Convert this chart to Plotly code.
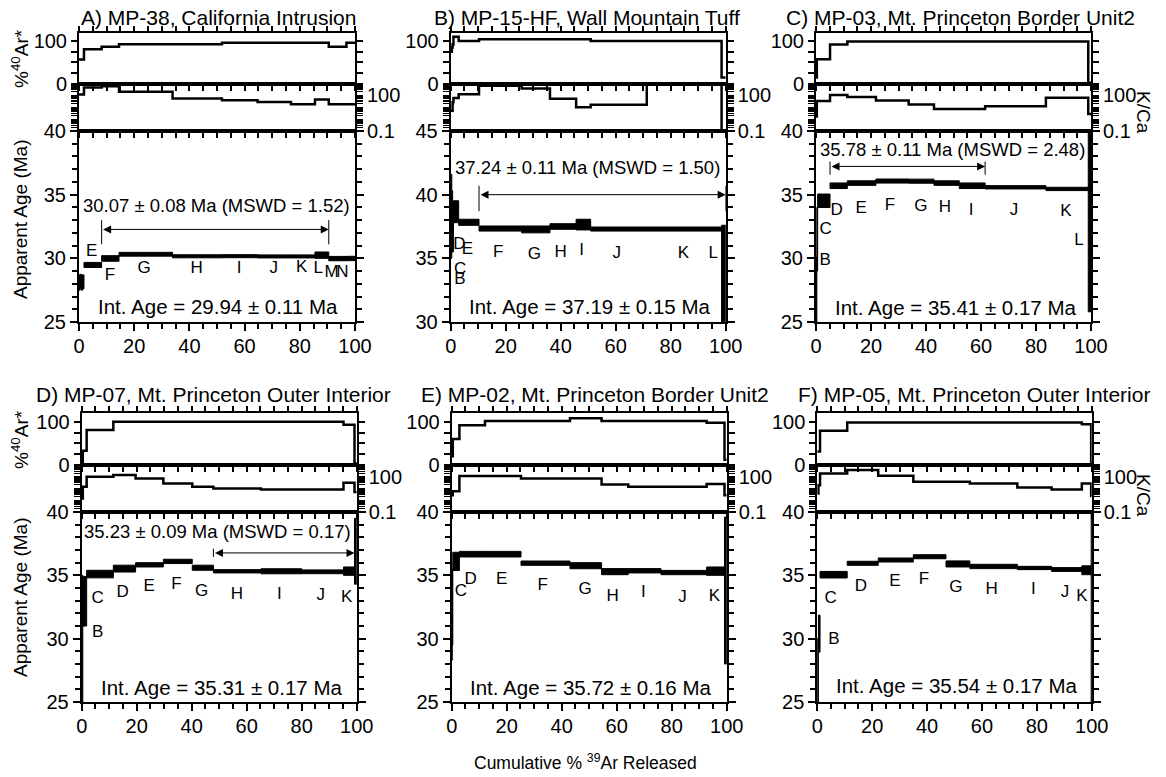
import plotly.graph_objects as go

# ---------------- Step-heating results ----------------
# Panel A: MP-38, California Intrusion
a_steps = ["A", "B", "C", "D", "E", "F", "G", "H", "I", "J", "K", "L", "M", "N"]
a_cum = [0, 0.4, 0.8, 1.3, 1.8, 8.2, 14.5, 33.9, 51.8, 64.7, 76.8, 85.5, 90.5, 96.9, 100]
a_age = [28.1, 28.2, 28.1, 28.15, 29.48, 29.99, 30.32, 30.16, 30.17, 30.15, 30.15, 30.25, 29.98, 29.99]
a_err = [0.6, 0.55, 0.6, 0.55, 0.2, 0.22, 0.15, 0.12, 0.12, 0.12, 0.12, 0.25, 0.17, 0.17]
a_rad = [56.7, 56.7, 56.7, 56.7, 80.3, 86.6, 92.1, 92.1, 96.1, 96.1, 96.1, 96.1, 86.6, 96.0]
a_kca = [117, 117, 117, 117, 457, 590, 200, 54, 39, 28, 18, 45, 18, 18]

# Panel B: MP-15-HF, Wall Mountain Tuff
b_steps = ["A", "B", "C", "D", "E", "F", "G", "H", "I", "J", "K", "L"]
b_cum = [0, 0.4, 0.7, 1.0, 2.9, 10.3, 25.8, 36.1, 45.6, 50.9, 71.3, 98.5, 100]
b_age = [38.3, 37.9, 37.5, 38.66, 37.83, 37.34, 37.27, 37.5, 37.65, 37.3, 37.3, 33.6]
b_err = [3.3, 2.4, 2.0, 0.86, 0.24, 0.2, 0.27, 0.22, 0.42, 0.16, 0.16, 4.0]
b_rad = [75, 85, 92, 110, 100, 104, 104, 104, 104, 100, 100, 14]
b_kca = [5, 5, 27, 59, 123, 650, 380, 52, 10, 16, 820, 0.05]

# Panel C: MP-03, Mt. Princeton Border Unit2
c_steps = ["A", "B", "C", "D", "E", "F", "G", "H", "I", "J", "K", "L"]
c_cum = [0, 0.3, 0.6, 5.1, 11.4, 21.8, 33.7, 42.9, 52.1, 61.5, 83.6, 99.0, 100]
c_age = [27.5, 31.5, 34.52, 35.7, 35.91, 36.07, 36.06, 35.91, 35.7, 35.58, 35.45, 33.0]
c_err = [2.6, 2.5, 0.53, 0.22, 0.18, 0.16, 0.16, 0.18, 0.22, 0.13, 0.13, 7.2]
c_rad = [14, 57, 57, 92, 99, 99, 99, 99, 99, 99, 99, 2]
c_kca = [1.7, 33, 33, 107, 72, 37, 17, 7.2, 7.2, 12, 63, 2.7]

# Panel D: MP-07, Mt. Princeton Outer Interior
d_steps = ["A", "B", "C", "D", "E", "F", "G", "H", "I", "J", "K", "L"]
d_cum = [0, 0.4, 1.8, 11.5, 19.6, 29.7, 40.2, 47.9, 65.2, 80.0, 95.2, 99.2, 100]
d_age = [30.0, 32.95, 35.1, 35.53, 35.83, 36.1, 35.6, 35.32, 35.32, 35.28, 35.33, 36.9]
d_err = [5.0, 1.95, 0.3, 0.27, 0.17, 0.17, 0.2, 0.13, 0.2, 0.15, 0.33, 2.6]
d_rad = [5, 33, 81, 100, 100, 100, 100, 100, 100, 100, 93, 4]
d_kca = [1.4, 14, 100, 138, 72, 27, 14, 10, 8.2, 8.2, 31, 5]

# Panel E: MP-02, Mt. Princeton Border Unit2
e_steps = ["A", "B", "C", "D", "E", "F", "G", "H", "I", "J", "K", "L"]
e_cum = [0, 0.2, 0.4, 2.8, 12.1, 25.2, 43.0, 54.5, 64.2, 76.1, 92.7, 99.2, 100]
e_age = [31.8, 32.5, 36.1, 36.67, 36.67, 35.96, 35.76, 35.29, 35.36, 35.22, 35.33, 33.8]
e_err = [3.5, 3.0, 0.72, 0.22, 0.22, 0.17, 0.24, 0.24, 0.17, 0.17, 0.33, 5.8]
e_rad = [20, 20, 60, 92, 101.6, 101.6, 108, 101.6, 101.6, 101.6, 97.6, 12]
e_kca = [2.7, 2.7, 5.9, 114, 114, 72, 72, 22, 14, 14, 24, 2.7]

# Panel F: MP-05, Mt. Princeton Outer Interior
f_steps = ["A", "B", "C", "D", "E", "F", "G", "H", "I", "J", "K", "L"]
f_cum = [0, 0.4, 1.0, 10.9, 22.2, 35.0, 46.9, 55.6, 72.9, 85.4, 96.4, 99.8, 100]
f_age = [27.5, 30.4, 35.05, 35.95, 36.21, 36.47, 35.9, 35.7, 35.58, 35.46, 35.4, 32.5]
f_err = [2.5, 1.46, 0.26, 0.16, 0.16, 0.16, 0.24, 0.17, 0.13, 0.15, 0.35, 7.5]
f_rad = [31, 31, 79, 98, 98, 98, 98, 98, 98, 98, 94, 4]
f_kca = [3.7, 19, 193, 373, 122, 37, 37, 27, 12, 8.2, 27, 2.3]

# Sample names and summary ages
titles = ["A) MP-38, California Intrusion", "B) MP-15-HF, Wall Mountain Tuff",
          "C) MP-03, Mt. Princeton Border Unit2", "D) MP-07, Mt. Princeton Outer Interior",
          "E) MP-02, Mt. Princeton Border Unit2", "F) MP-05, Mt. Princeton Outer Interior"]
plateau_steps = [("F", "L"), ("F", "L"), ("D", "I"), ("H", "K"), None, None]
plateau_ages = ["30.07 ± 0.08", "37.24 ± 0.11", "35.78 ± 0.11", "35.23 ± 0.09", None, None]
plateau_mswd = ["1.52", "1.50", "2.48", "0.17", None, None]
integrated_ages = ["29.94 ± 0.11", "37.19 ± 0.15", "35.41 ± 0.17",
                   "35.31 ± 0.17", "35.72 ± 0.16", "35.54 ± 0.17"]
age_ranges = [(25, 40), (30, 45), (25, 40), (25, 40), (25, 40), (25, 40)]

# ---------------- Layout constants ----------------
W, H = 1166, 777
FONT = "Arial, Liberation Sans, Helvetica, sans-serif"
COLS = [[(79, 355), (450.7, 725.7), (816, 1091)],
        [(81.7, 356.7), (451.7, 726.7), (817.3, 1091.7)]]
ROWS = [(32.5, 83.5, 131, 322), (413, 465, 512, 702)]
TITLE_X = [218, 587, 960, 213, 595, 974]
TITLE_Y = [18, 18, 18, 395, 395, 395]

# where step letters sit (x in cumulative %, y in Ma)
label_pos = [
    {"E": (4.6, 30.49), "F": (11.2, 28.67), "G": (23.6, 29.2), "H": (42.6, 29.15), "I": (58, 29.15),
     "J": (70.6, 29.15), "K": (80.7, 29.3), "L": (86.7, 29.15), "M": (91.5, 28.85), "N": (95.4, 28.85)},
    {"B": (3.4, 33.3), "C": (3.4, 34.1), "D": (3.2, 36.06), "E": (6.1, 35.71), "F": (17.3, 35.42),
     "G": (30.4, 35.29), "H": (40, 35.42), "I": (47.6, 35.63), "J": (60.4, 35.34), "K": (84.6, 35.37),
     "L": (95.5, 35.37)},
    {"B": (3.3, 29.84), "C": (3.5, 32.22), "D": (7.5, 33.73), "E": (16.4, 33.89), "F": (26.9, 34.15),
     "G": (38.1, 34.07), "H": (46.9, 33.94), "I": (56.4, 33.76), "J": (72, 33.76), "K": (90.9, 33.68),
     "L": (95.6, 31.35)},
    {"B": (5.8, 30.5), "C": (5.8, 33.15), "D": (14.9, 33.6), "E": (24.5, 34.07), "F": (34.5, 34.29),
     "G": (43.6, 33.68), "H": (56.4, 33.49), "I": (71.9, 33.49), "J": (86.9, 33.41), "K": (96.4, 33.2)},
    {"C": (3.3, 33.72), "D": (6.9, 34.65), "E": (18.2, 34.65), "F": (33.1, 34.2), "G": (48.5, 33.86),
     "H": (58.5, 33.32), "I": (69.7, 33.59), "J": (83.9, 33.24), "K": (95.5, 33.32)},
    {"B": (6.1, 29.88), "C": (4.9, 33.14), "D": (15.9, 34.12), "E": (28.3, 34.47), "F": (38.9, 34.66),
     "G": (50.5, 33.99), "H": (63.5, 33.86), "I": (78.7, 33.86), "J": (90.3, 33.6), "K": (96.4, 33.33)},
]
# plateau arrow level, end-bar extent (below, above) and text positions (x %, y Ma)
plateau_geom = [
    dict(level=32.27, bar=(31.1, 33.0), text=(49.9, 34.14)),
    dict(level=40.0, bar=(38.7, 40.7), text=(49.6, 42.17)),
    dict(level=37.22, bar=(36.56, 37.6), text=(49.5, 38.52)),
    dict(level=36.77, bar=(36.45, 37.1), text=(49.4, 38.44)),
    None, None,
]
int_text_pos = [(50.4, 26.25), (50.7, 31.24), (50.9, 26.14), (50.9, 26.14), (50.5, 26.14), (50.8, 26.3)]

panels = [
    (a_steps, a_cum, a_age, a_err, a_rad, a_kca),
    (b_steps, b_cum, b_age, b_err, b_rad, b_kca),
    (c_steps, c_cum, c_age, c_err, c_rad, c_kca),
    (d_steps, d_cum, d_age, d_err, d_rad, d_kca),
    (e_steps, e_cum, e_age, e_err, e_rad, e_kca),
    (f_steps, f_cum, f_age, f_err, f_rad, f_kca),
]

# log tick positions for the K/Ca strip
kca_ticks = [m * 10.0 ** e for e in range(-1, 3) for m in range(1, 10)] + [1000]
kca_text = ["0.1" if abs(v - 0.1) < 1e-9 else ("100" if abs(v - 100) < 1e-9 else "") for v in kca_ticks]


def ax_name(kind, n):
    return kind + ("" if n == 1 else str(n))


def paper_text(x, y, text, size, angle=0):
    return dict(x=x / W, y=1 - y / H, xref="paper", yref="paper", xanchor="center", yanchor="middle",
                text=text, textangle=angle, showarrow=False, font=dict(family=FONT, size=size, color="black"))


fig = go.Figure()
layout = {}
annotations = []
line_common = dict(showline=True, linecolor="black", linewidth=2, showgrid=False, zeroline=False,
                   automargin=False, tickcolor="black", tickwidth=1.5,
                   tickfont=dict(family=FONT, size=20, color="black"))

for p, (steps, cum, age, err, rad, kca) in enumerate(panels):
    row, col = divmod(p, 3)
    x0, x1 = COLS[row][col]
    top, b1, b2, bot = ROWS[row]
    n_ar, n_kc, n_ag = 3 * p + 1, 3 * p + 2, 3 * p + 3
    xd = [x0 / W, x1 / W]
    xa = ax_name("x", n_ag)
    ya = ax_name("y", n_ag)

    # --- axes ---
    layout[ax_name("xaxis", n_ar)] = dict(line_common, domain=xd, range=[0, 100], anchor=ax_name("y", n_ar),
                                          tickvals=list(range(0, 101, 5)), showticklabels=False,
                                          ticks="outside", ticklen=5, mirror="ticks")
    layout[ax_name("xaxis", n_kc)] = dict(line_common, domain=xd, range=[0, 100], anchor=ax_name("y", n_kc),
                                          tickvals=list(range(0, 101, 5)), showticklabels=False,
                                          ticks="outside", ticklen=5, mirror=True)
    layout[ax_name("xaxis", n_ag)] = dict(line_common, domain=xd, range=[0, 100], anchor=ya,
                                          tickvals=list(range(0, 101, 20)), ticks="outside", ticklen=7,
                                          ticklabelstandoff=-2,
                                          minor=dict(tickvals=list(range(0, 101, 5)), ticks="outside",
                                                     ticklen=5, tickcolor="black", tickwidth=1.5),
                                          mirror=True)
    layout[ax_name("yaxis", n_ar)] = dict(line_common, domain=[1 - b1 / H, 1 - top / H], range=[0, 120],
                                          anchor=ax_name("x", n_ar), tickvals=[0, 25, 50, 75, 100],
                                          ticktext=["0", "", "", "", "100"], ticks="outside", ticklen=6,
                                          mirror="ticks")
    layout[ax_name("yaxis", n_kc)] = dict(line_common, domain=[1 - b2 / H, 1 - b1 / H], type="log",
                                          range=[-1, 3], anchor=ax_name("x", n_kc), side="right",
                                          tickvals=kca_ticks, ticktext=kca_text, ticks="outside",
                                          ticklen=6, tickwidth=0.8, mirror="ticks")
    lo_r, hi_r = age_ranges[p]
    layout[ax_name("yaxis", n_ag)] = dict(line_common, domain=[1 - bot / H, 1 - b2 / H], range=[lo_r, hi_r],
                                          anchor=xa, tickvals=list(range(lo_r, hi_r + 1, 5)),
                                          ticks="outside", ticklen=7,
                                          minor=dict(tickvals=list(range(lo_r, hi_r + 1)), ticks="outside",
                                                     ticklen=5, tickcolor="black", tickwidth=1.5),
                                          mirror="ticks")

    # --- %40Ar* and K/Ca step lines ---
    sx = list(cum[:-1]) + [cum[-1]]
    fig.add_trace(go.Scatter(x=sx, y=list(rad) + [rad[-1]], mode="lines",
                             line=dict(color="black", width=2.5, shape="hv"),
                             xaxis=ax_name("x", n_ar), yaxis=ax_name("y", n_ar), hoverinfo="skip"))
    fig.add_trace(go.Scatter(x=sx, y=list(kca) + [kca[-1]], mode="lines",
                             line=dict(color="black", width=2.5, shape="hv"),
                             xaxis=ax_name("x", n_kc), yaxis=ax_name("y", n_kc), hoverinfo="skip"))

    # --- age spectrum boxes (age +/- error) ---
    bx, by = [], []
    for i in range(len(steps)):
        c0, c1 = cum[i], cum[i + 1]
        lo, hi = age[i] - err[i], age[i] + err[i]
        bx += [c0, c1, c1, c0, c0, None]
        by += [lo, lo, hi, hi, lo, None]
    fig.add_trace(go.Scatter(x=bx, y=by, mode="lines", fill="toself", fillcolor="black",
                             line=dict(color="black", width=1), xaxis=xa, yaxis=ya, hoverinfo="skip"))

    # --- step letters ---
    lp = label_pos[p]
    names = [s for s in steps if s in lp]
    fig.add_trace(go.Scatter(x=[lp[s][0] for s in names], y=[lp[s][1] for s in names], mode="text",
                             text=names, textposition="middle center",
                             textfont=dict(family=FONT, size=17, color="black"),
                             xaxis=xa, yaxis=ya, hoverinfo="skip"))

    # --- plateau ---
    if plateau_steps[p]:
        s0, s1 = plateau_steps[p]
        px0 = cum[steps.index(s0)]
        px1 = cum[steps.index(s1) + 1]
        g = plateau_geom[p]
        fig.add_trace(go.Scatter(x=[px0, px0, None, px1, px1],
                                 y=[g["bar"][0], g["bar"][1], None, g["bar"][0], g["bar"][1]],
                                 mode="lines", line=dict(color="black", width=1),
                                 xaxis=xa, yaxis=ya, hoverinfo="skip"))
        annotations.append(dict(x=px1, y=g["level"], ax=px0, ay=g["level"], xref=xa, yref=ya,
                                axref=xa, ayref=ya, text="", showarrow=True, arrowside="end+start",
                                arrowhead=2, arrowsize=1.6, arrowwidth=1, arrowcolor="black",
                                standoff=0, startstandoff=0))
        annotations.append(dict(x=g["text"][0], y=g["text"][1], xref=xa, yref=ya,
                                xanchor="center", yanchor="middle",
                                text=f"{plateau_ages[p]} Ma (MSWD = {plateau_mswd[p]})", showarrow=False,
                                font=dict(family=FONT, size=18.5, color="black")))

    ix, iy = int_text_pos[p]
    annotations.append(dict(x=ix, y=iy, xref=xa, yref=ya, xanchor="center", yanchor="middle",
                            text=f"Int. Age = {integrated_ages[p]} Ma", showarrow=False,
                            font=dict(family=FONT, size=20.5, color="black")))

    annotations.append(paper_text(TITLE_X[p], TITLE_Y[p], titles[p], 21))

# axis titles
for yc in (59, 440):
    annotations.append(paper_text(20, yc, "%<sup>40</sup>Ar*", 19, -90))
for yc in (220, 598):
    annotations.append(paper_text(20, yc, "Apparent Age (Ma)", 19, -90))
for yc in (112, 495):
    annotations.append(paper_text(1143, yc, "K/Ca", 19, 90))
annotations.append(paper_text(585, 762, "Cumulative % <sup>39</sup>Ar Released", 17.5))

fig.update_layout(width=W, height=H, margin=dict(l=0, r=0, t=0, b=0, autoexpand=False),
                  paper_bgcolor="white", plot_bgcolor="white", showlegend=False,
                  annotations=annotations, font=dict(family=FONT, color="black"), **layout)

fig.write_html("out.html")
